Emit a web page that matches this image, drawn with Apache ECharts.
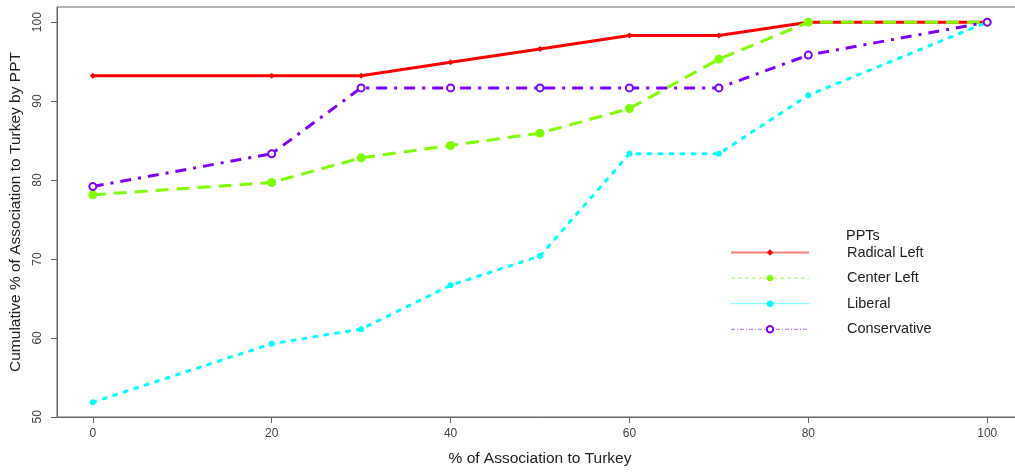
<!DOCTYPE html>
<html><head><meta charset="utf-8">
<script src="https://cdn.jsdelivr.net/npm/echarts@6/dist/echarts.min.js"></script>
<style>html,body{margin:0;padding:0;background:#fff}#c{width:1015px;height:472px}</style>
</head><body><div id="c"></div>
<script>
const xValues = [0, 20, 30, 40, 50, 60, 70, 80, 100];
const radicalLeft = [93.22, 93.22, 93.22, 94.92, 96.61, 98.31, 98.31, 100, 100];
const centerLeft = [78.13, 79.69, 82.81, 84.38, 85.94, 89.06, 95.31, 100, 100];
const liberal = [51.85, 59.26, 61.11, 66.67, 70.37, 83.33, 83.33, 90.74, 100];
const conservative = [79.17, 83.33, 91.67, 91.67, 91.67, 91.67, 91.67, 95.83, 100];
const xTicks = [0, 20, 40, 60, 80, 100];
const yTicks = [50, 60, 70, 80, 90, 100];
const seriesNames = ['Radical Left', 'Center Left', 'Liberal', 'Conservative'];

const pair = arr => xValues.map((x, i) => [x, arr[i]]);
const font = 'Liberation Sans, Arial, sans-serif';
const chart = echarts.init(document.getElementById('c'));
chart.setOption({
  animation: false,
  grid: {left: 57, top: 7, width: 966, height: 410, show: true, borderColor: '#666', borderWidth: 1,
         outerBoundsMode: 'none', containLabel: false},
  xAxis: {
    type: 'value', min: -4, max: 104,
    name: '% of Association to Turkey', nameLocation: 'middle', nameGap: 34,
    nameTextStyle: {fontFamily: font, fontSize: 15.5, color: '#222'},
    axisLine: {show: true, onZero: false, lineStyle: {color: '#666'}},
    axisTick: {show: true, length: 6, lineStyle: {color: '#666'}, customValues: xTicks},
    axisLabel: {fontFamily: font, fontSize: 12, color: '#444', margin: 11, customValues: xTicks},
    splitLine: {show: false}
  },
  yAxis: {
    type: 'value', min: 49.98, max: 101.92,
    name: 'Cumulative % of Association to Turkey by PPT', nameLocation: 'middle', nameGap: 31,
    nameTextStyle: {fontFamily: font, fontSize: 15.5, color: '#222'},
    axisLine: {show: true, onZero: false, lineStyle: {color: '#666'}},
    axisTick: {show: true, length: 6, lineStyle: {color: '#666'}, customValues: yTicks},
    axisLabel: {fontFamily: font, fontSize: 12, color: '#444', rotate: 90, margin: 13, customValues: yTicks},
    splitLine: {show: false}
  },
  legend: {
    orient: 'vertical', left: 725, top: 240, itemWidth: 78, itemHeight: 8, itemGap: 10.6,
    textStyle: {fontFamily: font, fontSize: 14.5, lineHeight: 12, color: '#222', padding: [0, 0, 0, 33]},
    data: [
      {name: seriesNames[0], lineStyle: {width: 2, opacity: 0.5}},
      {name: seriesNames[1], lineStyle: {width: 1, opacity: 0.8, type: [4, 3]}},
      {name: seriesNames[2], lineStyle: {width: 1, opacity: 0.8, type: [1, 1.5]}},
      {name: seriesNames[3], lineStyle: {width: 1, opacity: 0.6, type: [4, 2, 1, 2]}}
    ]
  },
  graphic: [{type: 'text', left: 846, top: 228, style: {text: 'PPTs', font: '14.5px ' + font, fill: '#222'}}],
  series: [
    {name: seriesNames[0], type: 'line', data: pair(radicalLeft), symbol: 'diamond', symbolSize: 6,
     lineStyle: {color: '#ff0000', width: 3}, itemStyle: {color: '#ff0000'}, z: 2},
    {name: seriesNames[1], type: 'line', data: pair(centerLeft), symbol: 'circle', symbolSize: 9,
     lineStyle: {color: '#80ff00', width: 3, type: [13, 8]}, itemStyle: {color: '#80ff00'}, z: 3},
    {name: seriesNames[2], type: 'line', data: pair(liberal), symbol: 'circle', symbolSize: 6,
     lineStyle: {color: '#00ffff', width: 3, type: [3, 8], cap: 'round'}, itemStyle: {color: '#00ffff'}, z: 4},
    {name: seriesNames[3], type: 'line', data: pair(conservative), symbol: 'emptyCircle', symbolSize: 7,
     lineStyle: {color: '#8000ff', width: 3, type: [11, 7, 3, 7]}, itemStyle: {color: '#8000ff', borderWidth: 3}, z: 5}
  ]
});
</script></body></html>
